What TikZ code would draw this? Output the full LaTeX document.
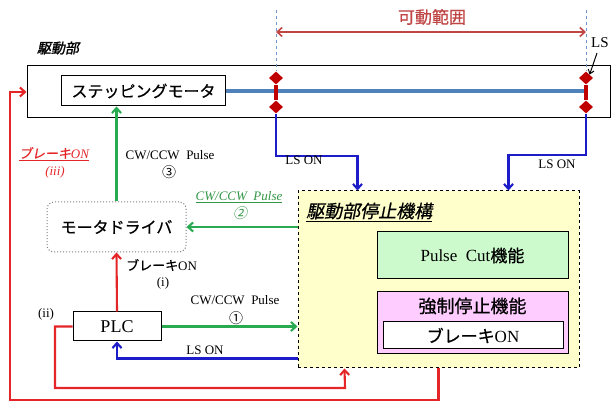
\documentclass[tikz,border=0pt]{standalone}
\usepackage{fontspec}
\setmainfont{Liberation Serif}
\newfontfamily\jp[FakeBold=0.6]{Noto Sans CJK JP}
\newfontfamily\jpn{Noto Sans CJK JP}
\newfontfamily\jpit[FakeSlant=0.2,FakeBold=0.6]{Noto Sans CJK JP}
\newfontfamily\jpnit[FakeSlant=0.2]{Noto Sans CJK JP}
\newfontfamily\jpbi[FakeSlant=0.2,FakeBold=1.5]{Noto Sans CJK JP}
\usetikzlibrary{arrows.meta,shapes.geometric}
\definecolor{cred}{RGB}{228,38,40}
\definecolor{dred}{RGB}{192,0,0}
\definecolor{rred}{RGB}{192,70,70}
\definecolor{cblue}{RGB}{28,28,200}
\definecolor{sblue}{RGB}{79,129,189}
\definecolor{lblue}{RGB}{110,150,200}
\definecolor{cgreen}{RGB}{40,170,80}
\definecolor{tgreen}{RGB}{50,150,70}
\definecolor{yfill}{RGB}{255,255,204}
\definecolor{gfill}{RGB}{204,250,204}
\definecolor{pfill}{RGB}{255,204,255}
\newcommand\fs[1]{\fontsize{#1}{#1}\selectfont}
\begin{document}
\begin{tikzpicture}[x=1pt,y=-1pt,
  tip/.style={-{Straight Barb[length=5pt,width=9pt]}},
  redc/.style={draw=cred,line width=2.1pt,tip},
  bluec/.style={draw=cblue,line width=2.1pt,tip},
  greenc/.style={draw=cgreen,line width=2.1pt,tip},
  box/.style={draw=black,line width=1pt,minimum width=#1,inner sep=0pt},
  ls/.style={diamond,fill=dred,minimum width=14pt,minimum height=13pt,inner sep=0pt},
  lab/.style={font=\fs{13},inner sep=1pt},
  num/.style={font=\jpn\fs{14},inner sep=0pt},
]
\useasboundingbox (0,0) rectangle (611,403);

% drive unit
\node[draw=black,line width=1pt,minimum width=583pt,minimum height=52pt,inner sep=0pt] (drive) at (318.5,92) {};
\node[font=\jpbi\fs{14}] (dtitle) at (58,48) {駆動部};
\node[box=164pt,minimum height=30pt,font=\jp\fs{16}] (motor) at (143.5,91) {ステッピングモータ};

% limit switches
\node[ls] (lsL1) at (276,78) {};
\node[ls] (lsL2) at (276,107) {};
\node[ls] (lsR1) at (586,78) {};
\node[ls] (lsR2) at (586,107) {};
\draw[sblue,line width=3.2pt] (motor.east) -- (motor.east -| lsR1);
\draw[dred,line width=3.2pt] (lsL1) -- (lsL2);
\draw[dred,line width=3.2pt] (lsR1) -- (lsR2);
\coordinate (topL) at (276,10);
\coordinate (topR) at (586,10);
\draw[lblue,dashed,line width=1pt] (topL) -- (lsL1.north);
\draw[lblue,dashed,line width=1pt] (topR) -- (lsR1.north);
\coordinate (rgL) at (276,32);
\coordinate (rgR) at (586,32);
\draw[rred,line width=1.6pt,{Straight Barb[length=5pt,width=9pt]}-{Straight Barb[length=5pt,width=9pt]}] (rgL) -- (rgR);
\node[text=rred,font=\jp\fs{17}] (range) at (432,17) {可動範囲};
\node[anchor=west,font=\fs{15},inner sep=0pt] (lslab) at (591,43) {LS};
\draw[line width=1pt,-{Straight Barb[length=4pt,width=6pt]}] (597,53) -- (lsR1.north east);

% stop mechanism
\node[draw=black,dashed,line width=1pt,fill=yfill,minimum width=281pt,minimum height=177pt,inner sep=0pt] (stop) at (438.5,279.5) {};
\node[anchor=west,font=\jpit\fs{18},inner sep=0pt] (stitle) at (306,212) {\underline{駆動部停止機構}};
\node[box=191pt,minimum height=47pt,fill=gfill,font=\fs{17}] (pcut) at (472.5,255.5) {Pulse\enspace Cut{\jp 機能}};
\node[box=191pt,minimum height=62pt,fill=pfill] (force) at (472.5,323) {};
\node[font=\jp\fs{18}] (ftitle) at (472.5,306) {強制停止機能};
\node[box=180pt,minimum height=27pt,fill=white,font=\fs{17}] (brk) at (473,335.5) {{\jp ブレーキ}ON};

% motor driver and PLC
\node[draw=gray,dotted,line width=1pt,rounded corners=7pt,fill=white,minimum width=139pt,minimum height=50pt,font=\jp\fs{16}] (drv) at (116.5,227) {モータドライバ};
\node[box=88pt,minimum height=29pt,font=\fs{18}] (plc) at (117,326.5) {PLC};

% connectors
\draw[greenc] (drv.north) -- (drv.north |- motor.south);
\draw[greenc] (drv.east -| stop.west) -- (drv.east);
\draw[greenc] (plc.east) -- (plc.east -| stop.west);
\draw[bluec] ([yshift=10pt]stop.south west) -| (plc.south);
\draw[redc] (plc.north) -- (drv.south);
\draw[redc] (plc.west) -- (55,326.5) |- (345,388) -- ([xshift=47pt]stop.south west);
\draw[redc] ([xshift=141pt]stop.south west) |- (10,400) |- (drive.west);
\draw[bluec] (lsL2.south) -- ++(0,42) -| ([xshift=60pt]stop.north west);
\draw[bluec] (lsR2.south) -- ++(0,41) -| ([xshift=211pt]stop.north west);

% labels
\node[lab] (l1) at (304,160) {LS ON};
\node[lab] (l2) at (557,164) {LS ON};
\node[lab] (l3) at (205,350) {LS ON};
\node[lab] (l4) at (170,155) {CW/CCW\enspace Pulse};
\node[num] (n3) at (169,172) {③};
\node[lab,text=tgreen,font=\itshape\fs{13}] (l5) at (239,197) {\underline{CW/CCW\enspace Pulse}};
\node[num,text=tgreen,font=\jpnit\fs{14}] (n2) at (240,213) {②};
\node[lab] (l6) at (235,300) {CW/CCW\enspace Pulse};
\node[num] (n1) at (236,318) {①};
\node[lab,anchor=west] (l7) at (125,265) {{\jp ブレーキ}ON};
\node[lab] (l8) at (163,283) {(i)};
\node[lab] (l9) at (46,314) {(ii)};
\node[lab,text=cred] (l10) at (54,154) {\underline{{\jpit ブレーキ}{\itshape ON}}};
\node[lab,text=cred] (l11) at (55,172) {\itshape (iii)};
\end{tikzpicture}
\end{document}
